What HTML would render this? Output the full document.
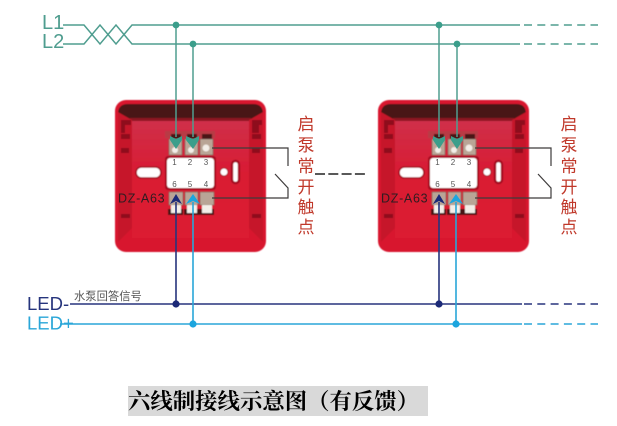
<!DOCTYPE html>
<html>
<head>
<meta charset="utf-8">
<style>
html,body{margin:0;padding:0;background:#fff}
svg{display:block}
.cn{font-family:"Liberation Sans","Noto Sans CJK SC",sans-serif}
.lat{font-family:"Liberation Sans",sans-serif}
</style>
</head>
<body>
<svg width="617" height="426" viewBox="0 0 617 426" xmlns="http://www.w3.org/2000/svg">
<defs>
<filter id="b" x="-5%" y="-5%" width="110%" height="110%"><feGaussianBlur stdDeviation=".55"/></filter>
<filter id="s" x="-5%" y="-5%" width="110%" height="110%"><feGaussianBlur stdDeviation=".3"/></filter>
<linearGradient id="wall" x1="0" y1="0" x2="0" y2="1">
  <stop offset="0" stop-color="#cf3049"/><stop offset=".45" stop-color="#d91b33"/><stop offset="1" stop-color="#dc1a31"/>
</linearGradient>
<g id="dev">
  <g filter="url(#b)">
  <rect x="115" y="100" width="151" height="152" rx="11" fill="#d8172e"/>
  <path d="M118 114q0-10 10-10h125q10 0 10 10l-12 6H130z" fill="#4a1218"/>
  <path d="M130 118h121v4H130z" fill="#8d1220"/>
  <path d="M118 112l14 8v108l-14 14zM263 112l-14 8v108l14 14z" fill="#c61329"/>
  <path d="M121 120h10v5h-6v8h-4zM121 134h9v5h-9zM121 148h8v5h-8zM121 214h9v4h-9zM252 120h10v5h-3v8h-7zM252 134h9v5h-9zM252 148h8v5h-8zM252 214h9v4h-9z" fill="#8e0e1c"/>
  <rect x="132" y="121" width="117" height="117" fill="url(#wall)"/>
  <path d="M165 131h50v7h-50z" fill="#b83b45"/>
  <rect x="165" y="156" width="51" height="34" rx="3" fill="#a50f20"/>
  <rect x="167" y="158" width="47" height="30" rx="3" fill="#fff"/>
  <rect x="136" y="167" width="25" height="11" rx="5.5" fill="#fff" stroke="#a50f20" stroke-width="1.6"/>
  <circle cx="224" cy="172" r="4" fill="#fff" stroke="#a50f20" stroke-width="1"/>
  <rect x="232" y="161" width="7" height="22" rx="3.5" fill="#fff" stroke="#a50f20" stroke-width="2.4"/>
  <g fill="#4a1217">
    <rect x="171" y="134" width="10" height="6"/><rect x="187" y="134" width="10" height="6"/><rect x="202" y="134" width="10" height="6"/>
    <rect x="168" y="209" width="15" height="6"/><rect x="184" y="209" width="15" height="6"/><rect x="199" y="209" width="15" height="6"/>
  </g>
  <g fill="#b9a596" stroke="#7b5f55" stroke-width=".6">
    <rect x="169" y="139" width="13" height="16"/><rect x="185" y="139" width="13" height="16"/><rect x="200" y="139" width="13" height="16"/>
    <rect x="169" y="192" width="14" height="13"/><rect x="185" y="192" width="13" height="13"/><rect x="200" y="192" width="14" height="13"/>
  </g>
  <g fill="#f3eee8">
    <rect x="171" y="205" width="10" height="8"/><rect x="187" y="205" width="10" height="8"/><rect x="202" y="205" width="10" height="8"/>
    <circle cx="206" cy="148" r="3.5"/><circle cx="175" cy="150" r="3"/><circle cx="191" cy="150" r="3"/>
  </g>
  </g>
  <g filter="url(#s)">
  <g class="lat" font-size="8" fill="#555" text-anchor="middle">
    <text x="174.500" y="165">1</text><text x="190" y="165">2</text><text x="206" y="165">3</text>
    <text x="174.500" y="187">6</text><text x="190" y="187">5</text><text x="206" y="187">4</text>
  </g>
  <text class="lat" x="118" y="202.500" font-size="12.500" fill="#2e1c20" letter-spacing=".7">DZ-A63</text>
  <path d="M212 148H288V166M275 174L288 188V198H212" fill="none" stroke="#3d3a3a" stroke-width="1.2"/>
  <g class="cn" font-size="17" fill="#c0392b" text-anchor="middle">
    <text x="306" y="130">启</text><text x="306" y="151">泵</text><text x="306" y="172">常</text>
    <text x="306" y="193">开</text><text x="306" y="213">触</text><text x="306" y="233">点</text>
  </g>
  </g>
</g>
</defs>

<!-- devices -->
<use href="#dev"/>
<use href="#dev" x="263"/>

<g filter="url(#s)">
<!-- middle dash -->
<path d="M315 174H367" stroke="#222" stroke-width="1.6" stroke-dasharray="10 3.300" fill="none"/>

<!-- L1 / L2 wires -->
<g fill="none" stroke="#4f9d8f" stroke-width="1.500">
  <path d="M63 25H84L100 44L116 25L132 44H520"/>
  <path d="M63 44H84L100 25L116 44L132 25H520"/>
  <path d="M524 25H598M524 44H598" stroke-dasharray="8 5.300"/>
  <path d="M176 25V137M193 44V137M439 25V137M457 44V137"/>
</g>
<g fill="#3a9e8b">
  <circle cx="176" cy="25" r="3.400"/><circle cx="193" cy="44" r="3.400"/>
  <circle cx="439" cy="25" r="3.400"/><circle cx="457" cy="44" r="3.400"/>
  <path d="M170 136l6 3 6-3v4l-6 9-6-9zM186 136l7 3 6-3v4l-6 9-7-9zM433 136l6 3 6-3v4l-6 9-6-9zM451 136l6 3 6-3v4l-6 9-6-9z"/>
</g>

<!-- LED wires -->
<g fill="none" stroke-width="1.600">
  <path d="M70 304H522M176 202V304M439 202V304" stroke="#28357d"/>
  <path d="M524 304H598" stroke="#28357d" stroke-dasharray="8 5.300"/>
  <path d="M60 324H522M193 202V324M456 202V324" stroke="#29a6d8"/>
  <path d="M524 324H598" stroke="#29a6d8" stroke-dasharray="8 5.300"/>
</g>
<circle cx="176" cy="304" r="3.600" fill="#1c2a78"/><circle cx="439" cy="304" r="3.600" fill="#1c2a78"/>
<circle cx="193" cy="324" r="3.600" fill="#1ea5de"/><circle cx="456" cy="324" r="3.600" fill="#1ea5de"/>
<path d="M170 204l6-10 6 10-6-3zM433 204l6-10 6 10-6-3z" fill="#1c2a78"/>
<path d="M186 204l7-10 7 10-7-3zM449 204l7-10 7 10-7-3z" fill="#1ea5de"/>

<!-- labels -->
<g class="lat">
  <text x="42" y="29" font-size="20" fill="#4f9d8f">L1</text>
  <text x="42" y="48" font-size="20" fill="#4f9d8f">L2</text>
  <text x="27" y="310" font-size="18.500" fill="#28357d">LED-</text>
  <text x="27" y="329.500" font-size="18.500" fill="#29a6d8">LED+</text>
</g>
<text class="cn" x="74" y="300" font-size="11.300" fill="#555">水泵回答信号</text>
</g>

<!-- caption -->
<rect x="128" y="386" width="300" height="30" fill="#d9d9d9"/>
<text x="128" y="409" font-family="'Liberation Serif','Noto Serif CJK SC',serif" font-size="22.400" font-weight="700" fill="#000">六线制接线示意图（有反馈）</text>
</svg>
</body>
</html>
